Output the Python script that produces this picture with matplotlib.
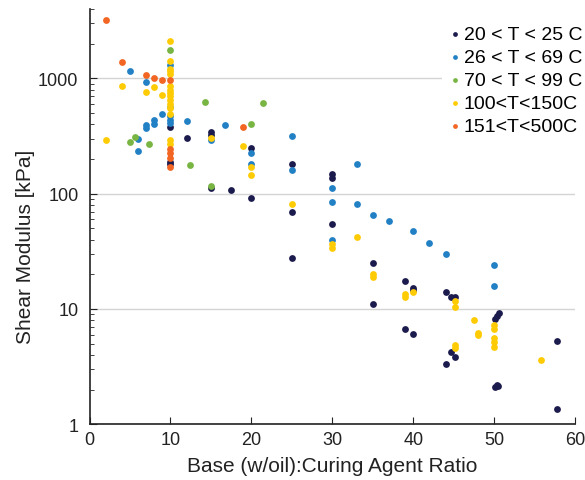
import matplotlib.pyplot as plt
from matplotlib.ticker import LogLocator, FixedLocator, NullFormatter

plt.rcParams['font.family'] = ['Liberation Sans', 'DejaVu Sans']

labels = ["20 < T < 25 C", "26 < T < 69 C", "70 < T < 99 C", "100<T<150C", "151<T<500C"]
colors = ["#1c1b4d", "#2280c4", "#78b543", "#ffcb05", "#f26522"]

# 20 < T < 25 C
x_navy = [10, 10, 10, 12, 15, 15, 15, 17.5, 20, 20, 25, 25, 25, 30, 30, 30, 35, 35,
          39, 39, 40, 40, 40, 44, 44.7, 45.2, 44.7, 45.2, 44, 50.1, 50.3, 50.6,
          50.3, 50.5, 50.1, 57.8, 57.8]
y_navy = [380, 190, 180, 303, 340, 322, 112, 107, 248, 91, 180, 69, 27.5, 147, 138, 55, 24.9, 11.1,
          17.6, 6.76, 15.3, 14.6, 6.07, 13.9, 12.6, 12.8, 4.27, 3.86, 3.31, 8.2, 8.7, 9.2,
          2.19, 2.15, 2.11, 5.25, 1.36]

# 26 < T < 69 C
x_blue = [5, 7, 10, 9, 8, 8, 7, 7, 12, 16.7, 6, 6, 10, 10, 10, 15, 20, 20, 25, 25,
          30, 30, 30, 33, 33, 35, 37, 40, 42, 44, 50, 50]
y_blue = [1160, 938, 1300, 488, 436, 405, 392, 374, 427, 392, 300, 236, 470, 440, 410, 290, 227, 181, 317, 160,
          112, 84, 40, 182, 82, 65, 58, 47.5, 37.4, 30.2, 24.1, 15.8]

# 70 < T < 99 C
x_green = [10, 14.25, 21.4, 20, 5, 5.6, 7.4, 12.4, 15, 10]
y_green = [1750, 624, 608, 400, 281, 313, 268, 177, 117, 570]

# 100 < T < 150 C
x_yellow = [2, 4, 8, 7, 9, 10, 10, 10, 10, 10, 10, 10, 10, 10, 10, 10, 10, 10, 10, 10,
            15, 19, 20, 20, 25, 30, 30, 33, 35, 35, 39, 39, 40, 45.2, 45.2, 47.5, 48, 48,
            50, 50, 50, 50, 50, 45.2, 45.2, 55.8]
y_yellow = [292, 860, 837, 757, 723, 2130, 1420, 1200, 1150, 1100, 860, 800, 750, 700, 650, 600, 560, 490, 290, 270,
            306, 259, 171, 145, 82, 36.3, 34, 42, 20.2, 19, 13.4, 12.6, 14.1, 11.7, 10.5, 8.0, 6.2, 5.9,
            7.2, 6.7, 5.65, 5.2, 4.7, 4.84, 4.56, 3.61]

# 151 < T < 500 C
x_orange = [2, 4, 7, 8, 9, 10, 19, 10, 10, 10, 10]
y_orange = [3210, 1400, 1064, 1016, 969, 970, 382, 245, 225, 205, 170]

series = [(x_navy, y_navy), (x_blue, y_blue), (x_green, y_green),
          (x_yellow, y_yellow), (x_orange, y_orange)]

fig = plt.figure(figsize=(5.85, 4.81), dpi=100)
ax = fig.add_axes([0.153, 0.116, 0.830, 0.863])

for (xs, ys), c, lab in zip(series, colors, labels):
    ax.scatter(xs, ys, s=24, color=c, label=lab, linewidths=0, zorder=3)

ax.set_yscale('log')
ax.set_xlim(0, 60)
ax.set_ylim(1, 4000)
ax.yaxis.set_major_locator(FixedLocator([1, 10, 100, 1000]))
ax.set_yticklabels(['1', '10', '100', '1000'])
ax.yaxis.set_minor_locator(LogLocator(base=10, subs=range(2, 10)))
ax.yaxis.set_minor_formatter(NullFormatter())
ax.set_xticks(range(0, 61, 10))

ax.grid(axis='y', which='major', color='#d4d4d4', lw=1)
ax.set_axisbelow(True)
for s in ['top', 'right']:
    ax.spines[s].set_visible(False)
for s in ['left', 'bottom']:
    ax.spines[s].set_color('#222222')
    ax.spines[s].set_linewidth(1.2)

ax.tick_params(axis='both', which='both', direction='in', colors='#222222', labelsize=13)
ax.tick_params(axis='x', which='major', length=5, pad=5)
ax.tick_params(axis='y', which='major', length=5, pad=8)
ax.tick_params(axis='y', which='minor', length=3)

ax.set_xlabel('Base (w/oil):Curing Agent Ratio', fontsize=15, color='#222222', labelpad=6)
ax.set_ylabel('Shear Modulus [kPa]', fontsize=15, color='#222222')
ax.yaxis.set_label_coords(-0.112, 0.429)

leg = ax.legend(loc='upper left', bbox_to_anchor=(0.756, 0.962), bbox_transform=fig.transFigure,
                fontsize=14, markerscale=0.7, handletextpad=0.2, handlelength=0.5,
                labelspacing=0.28, borderpad=0.4, borderaxespad=0, frameon=True, fancybox=False)
leg.get_frame().set_edgecolor('none')
leg.get_frame().set_facecolor('white')
leg.get_frame().set_alpha(1)

plt.savefig('out.png', dpi=100)
